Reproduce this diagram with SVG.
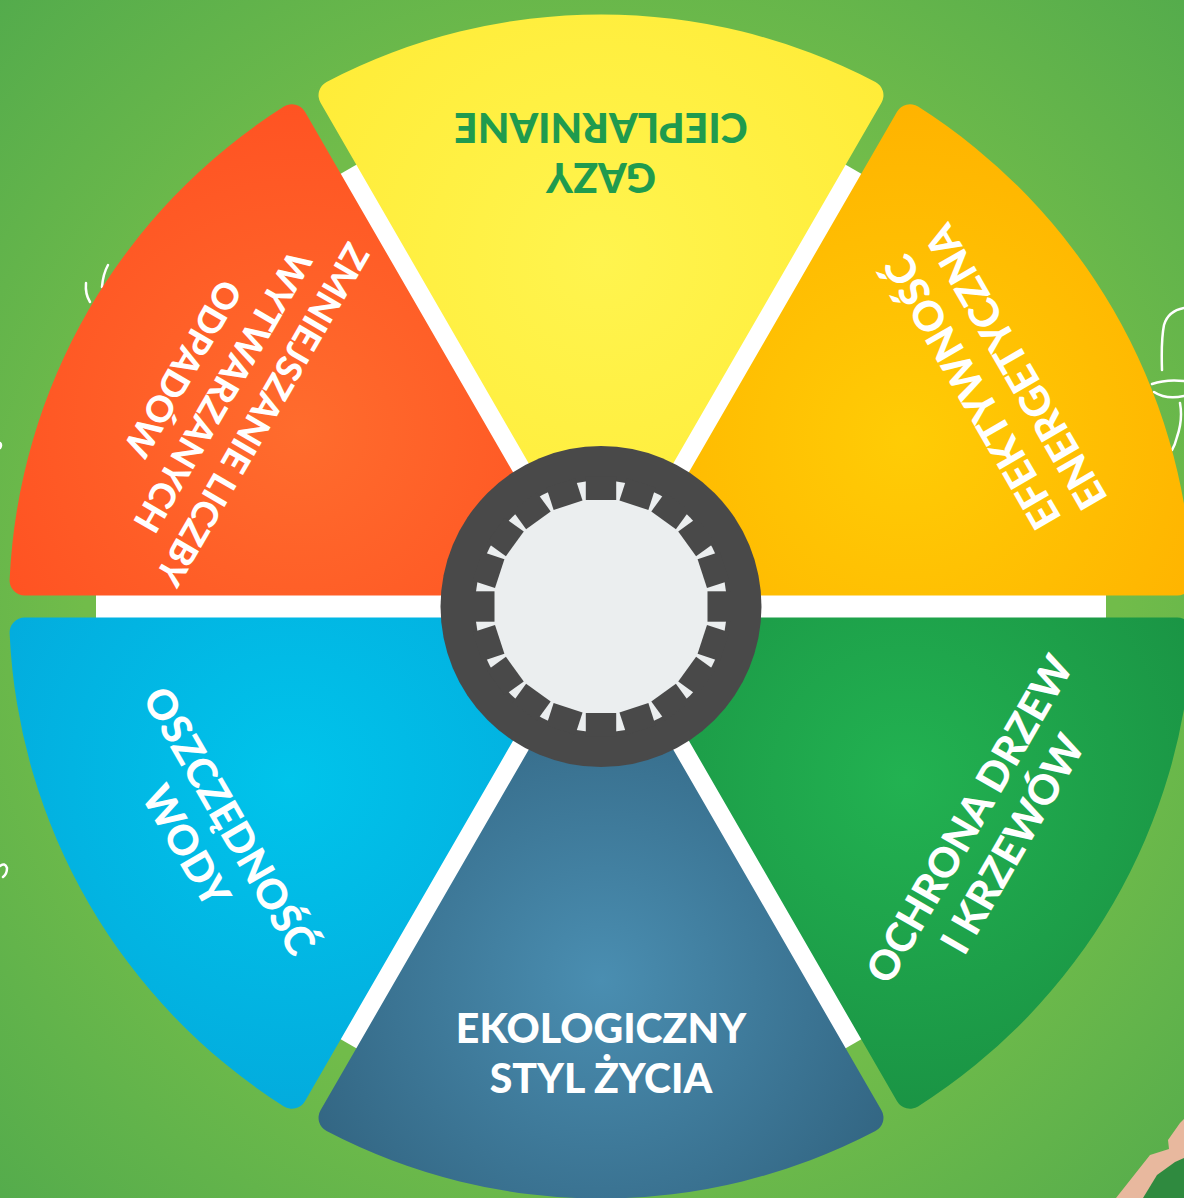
<svg xmlns="http://www.w3.org/2000/svg" xmlns:xlink="http://www.w3.org/1999/xlink" width="1184" height="1198" viewBox="0 0 1184 1198">
  <defs>
    <radialGradient id="bg" gradientUnits="userSpaceOnUse" cx="601" cy="606" r="860">
      <stop offset="0.6" stop-color="#71BC4A"/>
      <stop offset="1" stop-color="#53AB4C"/>
    </radialGradient>
    <radialGradient id="gYellow" gradientUnits="userSpaceOnUse" cx="601" cy="260" r="340">
      <stop offset="0" stop-color="#FFF44E"/>
      <stop offset="1" stop-color="#FFEC38"/>
    </radialGradient>
    <radialGradient id="gOrange" gradientUnits="userSpaceOnUse" cx="905" cy="440" r="340">
      <stop offset="0" stop-color="#FFCC05"/>
      <stop offset="1" stop-color="#FFB300"/>
    </radialGradient>
    <radialGradient id="gGreen" gradientUnits="userSpaceOnUse" cx="905" cy="780" r="340">
      <stop offset="0" stop-color="#22B251"/>
      <stop offset="1" stop-color="#1A9344"/>
    </radialGradient>
    <radialGradient id="gNavy" gradientUnits="userSpaceOnUse" cx="601" cy="980" r="320">
      <stop offset="0" stop-color="#4A8EB1"/>
      <stop offset="1" stop-color="#336683"/>
    </radialGradient>
    <radialGradient id="gBlue" gradientUnits="userSpaceOnUse" cx="290" cy="780" r="340">
      <stop offset="0" stop-color="#00C4EB"/>
      <stop offset="1" stop-color="#03ABDD"/>
    </radialGradient>
    <radialGradient id="gRed" gradientUnits="userSpaceOnUse" cx="300" cy="430" r="340">
      <stop offset="0" stop-color="#FF6C2D"/>
      <stop offset="1" stop-color="#FF5222"/>
    </radialGradient>
    <rect id="tooth" x="585.8" y="476.5" width="30.4" height="23.5" fill="#494949"/>
    <rect id="strip" x="96" y="594.5" width="1010" height="24" fill="#FFFFFF"/>
  </defs>
  <style>
    .lbl { font-family: Lato, "Open Sans", "DejaVu Sans", sans-serif; font-weight: 900; font-size: 41px; text-anchor: middle; fill: #FFFFFF; }
    .lbl.dark { fill: #1F9B4E; }
    .lbl.small { font-size: 36px; }
    .doodle { fill: none; stroke: #FFFFFF; stroke-width: 2.5; stroke-linecap: round; stroke-linejoin: round; }
  </style>

  <rect id="background" x="0" y="0" width="1184" height="1198" fill="url(#bg)"/>

  <g id="decorations">
    <path class="doodle" d="M86 283 Q85 294 90 302"/>
    <path class="doodle" d="M108 265 Q103 274 102 287"/>
    <path class="doodle" d="M0 443 Q2 445 0 448"/>
    <path class="doodle" d="M0 866 Q5 862 7 868 Q7 874 3 877"/>
    <path class="doodle" d="M1162 370 Q1161 340 1164 325 Q1168 311 1184 308"/>
    <path class="doodle" d="M1152 384 Q1166 379 1184 381"/>
    <path class="doodle" d="M1154 392 Q1166 400 1184 396"/>
    <path class="doodle" d="M1180 403 Q1183 420 1177 437 Q1175 445 1172 450"/>
    <path d="M1116 1198 L1150 1155 L1169 1149 L1168 1140 L1180 1123 L1184 1119 L1184 1198 Z" fill="#E8B89E"/>
    <path d="M1143 1198 L1157 1175 L1175 1162 L1184 1158 L1184 1198 Z" fill="#2F8A3F"/>
  </g>

  <g id="connectors">
    <use xlink:href="#strip"/>
    <use xlink:href="#strip" transform="rotate(60 601 606.5)"/>
    <use xlink:href="#strip" transform="rotate(120 601 606.5)"/>
  </g>

  <g id="node-gazy">
    <path d="M601 588.5 L320.54 102.73 A15 15 0 0 1 326.58 81.94 A592 592 0 0 1 875.42 81.94 A15 15 0 0 1 881.46 102.73 Z" fill="url(#gYellow)"/>
    <g transform="translate(601 152.5) rotate(180)">
      <text class="lbl dark" x="0" y="-10.5">GAZY</text>
      <text class="lbl dark" x="0" y="39.5">CIEPLARNIANE</text>
    </g>
  </g>

  <g id="node-efektywnosc">
    <path d="M617.74 595.5 L897.04 111.73 A15 15 0 0 1 918.07 106.56 A592 592 0 0 1 1192.40 579.82 A15 15 0 0 1 1177.41 595.5 Z" fill="url(#gOrange)"/>
    <g transform="translate(994.2 379.5) rotate(-120)">
      <text class="lbl" x="0" y="-10.5">EFEKTYWNOŚĆ</text>
      <text class="lbl" x="0" y="39.5">ENERGETYCZNA</text>
    </g>
  </g>

  <g id="node-ochrona">
    <path d="M617.74 617.5 L1177.41 617.5 A15 15 0 0 1 1192.40 633.18 A592 592 0 0 1 918.07 1106.44 A15 15 0 0 1 897.04 1101.27 Z" fill="url(#gGreen)"/>
    <g transform="translate(991 831.5) rotate(-60)">
      <text class="lbl" x="0" y="-10.5">OCHRONA DRZEW</text>
      <text class="lbl" x="0" y="39.5">I KRZEWÓW</text>
    </g>
  </g>

  <g id="node-ekologiczny">
    <path d="M601 624.5 L881.46 1110.27 A15 15 0 0 1 875.42 1131.06 A592 592 0 0 1 326.58 1131.06 A15 15 0 0 1 320.54 1110.27 Z" fill="url(#gNavy)"/>
    <g transform="translate(601 1053.5)">
      <text class="lbl" x="0" y="-10.5">EKOLOGICZNY</text>
      <text class="lbl" x="0" y="39.5">STYL ŻYCIA</text>
    </g>
  </g>

  <g id="node-oszczednosc">
    <path d="M584.26 617.5 L304.96 1101.27 A15 15 0 0 1 283.93 1106.44 A592 592 0 0 1 9.60 633.18 A15 15 0 0 1 24.59 617.5 Z" fill="url(#gBlue)"/>
    <g transform="translate(207.8 833.5) rotate(60)">
      <text class="lbl" x="0" y="-10.5">OSZCZĘDNOŚĆ</text>
      <text class="lbl" x="0" y="39.5">WODY</text>
    </g>
  </g>

  <g id="node-odpady">
    <path d="M584.26 595.5 L24.59 595.5 A15 15 0 0 1 9.60 579.82 A592 592 0 0 1 283.93 106.56 A15 15 0 0 1 304.96 111.73 Z" fill="url(#gRed)"/>
    <g transform="translate(222.8 391.7) rotate(120)">
      <text class="lbl small" x="0" y="-33">ZMNIEJSZANIE LICZBY</text>
      <text class="lbl small" x="0" y="13">WYTWARZANYCH</text>
      <text class="lbl small" x="0" y="59">ODPADÓW</text>
    </g>
  </g>

  <g id="node-hub">
    <circle cx="601" cy="606.5" r="160.5" fill="#494949"/>
    <circle cx="601" cy="606.5" r="126" fill="#EBEEEF"/>
    <use xlink:href="#tooth"/>
    <use xlink:href="#tooth" transform="rotate(18 601 606.5)"/>
    <use xlink:href="#tooth" transform="rotate(36 601 606.5)"/>
    <use xlink:href="#tooth" transform="rotate(54 601 606.5)"/>
    <use xlink:href="#tooth" transform="rotate(72 601 606.5)"/>
    <use xlink:href="#tooth" transform="rotate(90 601 606.5)"/>
    <use xlink:href="#tooth" transform="rotate(108 601 606.5)"/>
    <use xlink:href="#tooth" transform="rotate(126 601 606.5)"/>
    <use xlink:href="#tooth" transform="rotate(144 601 606.5)"/>
    <use xlink:href="#tooth" transform="rotate(162 601 606.5)"/>
    <use xlink:href="#tooth" transform="rotate(180 601 606.5)"/>
    <use xlink:href="#tooth" transform="rotate(198 601 606.5)"/>
    <use xlink:href="#tooth" transform="rotate(216 601 606.5)"/>
    <use xlink:href="#tooth" transform="rotate(234 601 606.5)"/>
    <use xlink:href="#tooth" transform="rotate(252 601 606.5)"/>
    <use xlink:href="#tooth" transform="rotate(270 601 606.5)"/>
    <use xlink:href="#tooth" transform="rotate(288 601 606.5)"/>
    <use xlink:href="#tooth" transform="rotate(306 601 606.5)"/>
    <use xlink:href="#tooth" transform="rotate(324 601 606.5)"/>
    <use xlink:href="#tooth" transform="rotate(342 601 606.5)"/>
  </g>
</svg>
